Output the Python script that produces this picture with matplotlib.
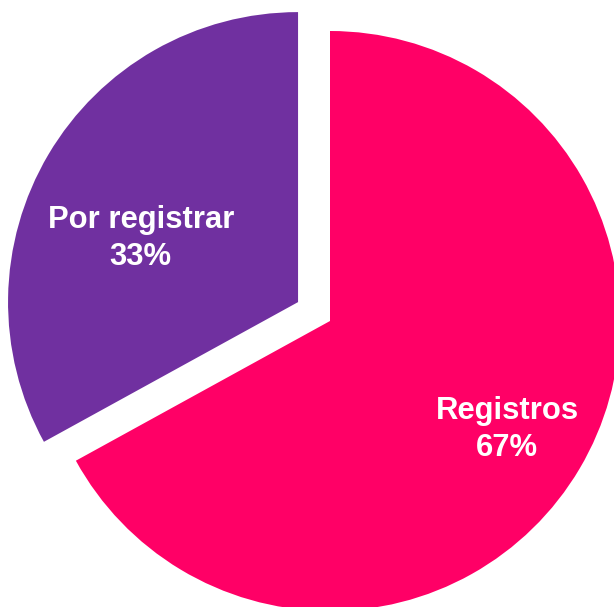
import matplotlib
matplotlib.use("Agg")
import matplotlib.pyplot as plt
import numpy as np

labels = ["Registros", "Por registrar"]
values = [67, 33]
colors = ["#FF0066", "#7030A0"]
explode = [0.0, 0.128]

plt.rcParams['font.family'] = ['Liberation Sans', 'DejaVu Sans']

fig = plt.figure(figsize=(6.14, 6.07), dpi=100)
ax = fig.add_axes([0, 0, 1, 1])

R = 1.0
wedges, _ = ax.pie(values, colors=colors, explode=explode, startangle=90,
                   counterclock=False, radius=R,
                   wedgeprops=dict(linewidth=0))

# label placement
label_pos = [(0.716, -31.4), (0.585, 158.0)]
total = sum(values)
for i, (lab, v) in enumerate(zip(labels, values)):
    w = wedges[i]
    cx, cy = w.center
    d, ang = label_pos[i]
    a = np.deg2rad(ang)
    ax.text(cx + d * np.cos(a), cy + d * np.sin(a),
            f"{lab}\n{round(v / total * 100)}%",
            ha="center", va="center", color="white", fontsize=22.3,
            fontweight="bold", linespacing=1.32)

ax.set_aspect("auto")
ax.set_xlim(-330 / 290, 284 / 290)
ax.set_ylim(-286 / 290, 321 / 290)
ax.axis("off")

fig.savefig("out.png", dpi=100)
